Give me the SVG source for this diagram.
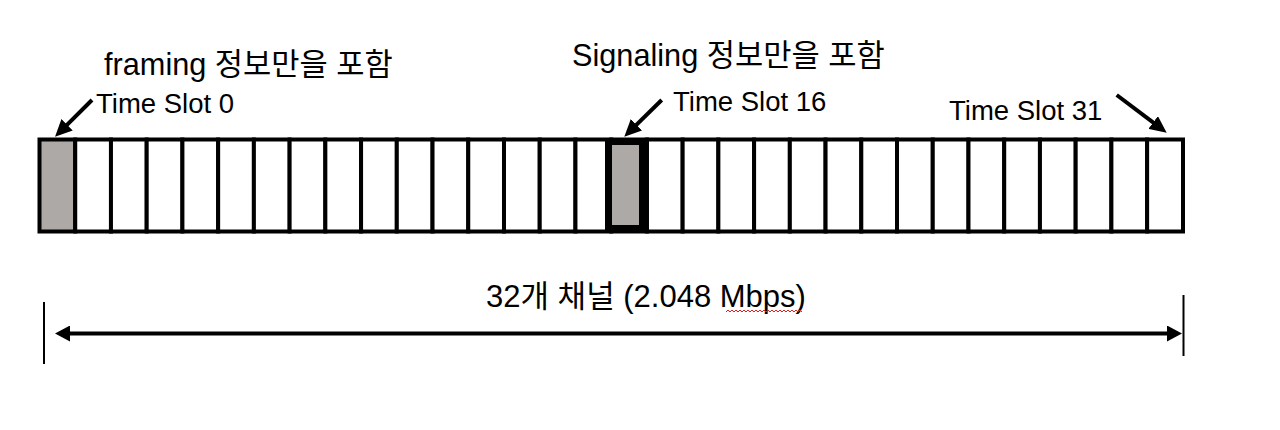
<svg xmlns="http://www.w3.org/2000/svg" width="1280" height="430" viewBox="0 0 1280 430">
<style>
text{font-family:"Liberation Sans","Noto Sans CJK KR",sans-serif;fill:#000}
.slot{fill:#fff;stroke:#000;stroke-width:4}
.gray{fill:#ada9a7}
.lbl{font-size:27.5px}
.title{font-size:30.7px}
.arrow{stroke:#000;stroke-width:4;fill:none}
</style>
<defs>
<marker id="ah" markerUnits="userSpaceOnUse" markerWidth="18" markerHeight="16" refX="9" refY="8" orient="auto">
<path d="M0,0 L17,8 L0,16 z" fill="#000"/>
</marker>
<marker id="dh" markerUnits="userSpaceOnUse" markerWidth="16" markerHeight="16" refX="7" refY="8" orient="auto-start-reverse">
<path d="M0,0 L15,8 L0,16 z" fill="#000"/>
</marker>
</defs>
<rect width="1280" height="430" fill="#fff"/>
<g id="frame">
<rect class="slot gray" x="39.5" y="139.5" width="35.73" height="92"/>
<rect class="slot" x="75.23" y="139.5" width="35.73" height="92"/>
<rect class="slot" x="110.96" y="139.5" width="35.73" height="92"/>
<rect class="slot" x="146.69" y="139.5" width="35.73" height="92"/>
<rect class="slot" x="182.42" y="139.5" width="35.73" height="92"/>
<rect class="slot" x="218.15" y="139.5" width="35.73" height="92"/>
<rect class="slot" x="253.88" y="139.5" width="35.73" height="92"/>
<rect class="slot" x="289.61" y="139.5" width="35.73" height="92"/>
<rect class="slot" x="325.34" y="139.5" width="35.73" height="92"/>
<rect class="slot" x="361.07" y="139.5" width="35.73" height="92"/>
<rect class="slot" x="396.8" y="139.5" width="35.73" height="92"/>
<rect class="slot" x="432.53" y="139.5" width="35.73" height="92"/>
<rect class="slot" x="468.26" y="139.5" width="35.73" height="92"/>
<rect class="slot" x="503.99" y="139.5" width="35.73" height="92"/>
<rect class="slot" x="539.72" y="139.5" width="35.73" height="92"/>
<rect class="slot" x="575.45" y="139.5" width="35.73" height="92"/>
<rect class="slot" x="611.18" y="139.5" width="35.73" height="92"/>
<rect class="slot" x="646.91" y="139.5" width="35.73" height="92"/>
<rect class="slot" x="682.64" y="139.5" width="35.73" height="92"/>
<rect class="slot" x="718.37" y="139.5" width="35.73" height="92"/>
<rect class="slot" x="754.1" y="139.5" width="35.73" height="92"/>
<rect class="slot" x="789.83" y="139.5" width="35.73" height="92"/>
<rect class="slot" x="825.56" y="139.5" width="35.73" height="92"/>
<rect class="slot" x="861.29" y="139.5" width="35.73" height="92"/>
<rect class="slot" x="897.02" y="139.5" width="35.73" height="92"/>
<rect class="slot" x="932.75" y="139.5" width="35.73" height="92"/>
<rect class="slot" x="968.48" y="139.5" width="35.73" height="92"/>
<rect class="slot" x="1004.21" y="139.5" width="35.73" height="92"/>
<rect class="slot" x="1039.94" y="139.5" width="35.73" height="92"/>
<rect class="slot" x="1075.67" y="139.5" width="35.73" height="92"/>
<rect class="slot" x="1111.4" y="139.5" width="35.73" height="92"/>
<rect class="slot" x="1147.13" y="139.5" width="35.87" height="92"/>
</g>
<g id="slot16">
<rect class="gray" x="608.5" y="141.5" width="34" height="87" stroke="#000" stroke-width="7"/>
<rect x="644.9" y="139.5" width="4" height="92" fill="#000"/>
</g>
<g id="label-framing">
<text class="title" x="104" y="75">framing 정보만을 포함</text>
<text class="lbl" x="96" y="113">Time Slot 0</text>
</g>
<g id="label-signaling">
<text class="title" x="572" y="66">Signaling 정보만을 포함</text>
<text class="lbl" x="673" y="111">Time Slot 16</text>
</g>
<g id="label-slot31">
<text class="lbl" x="949" y="120">Time Slot 31</text>
</g>
<g id="label-total">
<text x="486" y="307" font-size="31px">32개 채널 (2.048 Mbps)</text>
<path d="M726,312 l2,-2 l2,2 l2,-2 l2,2 l2,-2 l2,2 l2,-2 l2,2 l2,-2 l2,2 l2,-2 l2,2 l2,-2 l2,2 l2,-2 l2,2 l2,-2 l2,2 l2,-2 l2,2 l2,-2 l2,2 l2,-2 l2,2 l2,-2 l2,2 l2,-2 l2,2 l2,-2 l2,2 l2,-2 l2,2 l2,-2 l2,2 l2,-2 l2,2 l2,-2 l2,2" fill="none" stroke="#e02020" stroke-width="1"/>
</g>
<g id="connectors">
<line class="arrow" x1="92" y1="100" x2="60.7" y2="131.1" marker-end="url(#ah)"/>
<line class="arrow" x1="661.7" y1="100" x2="630" y2="131.1" marker-end="url(#ah)"/>
<line class="arrow" x1="1116.7" y1="95" x2="1160.3" y2="127.9" marker-end="url(#ah)"/>
<line class="arrow" x1="63" y1="333.5" x2="1174" y2="333.5" stroke-width="4.5" marker-start="url(#dh)" marker-end="url(#dh)"/>
<line x1="44" y1="302" x2="44" y2="364" stroke="#000" stroke-width="2"/>
<line x1="1183.5" y1="295" x2="1183.5" y2="356" stroke="#000" stroke-width="2"/>
</g>
</svg>
